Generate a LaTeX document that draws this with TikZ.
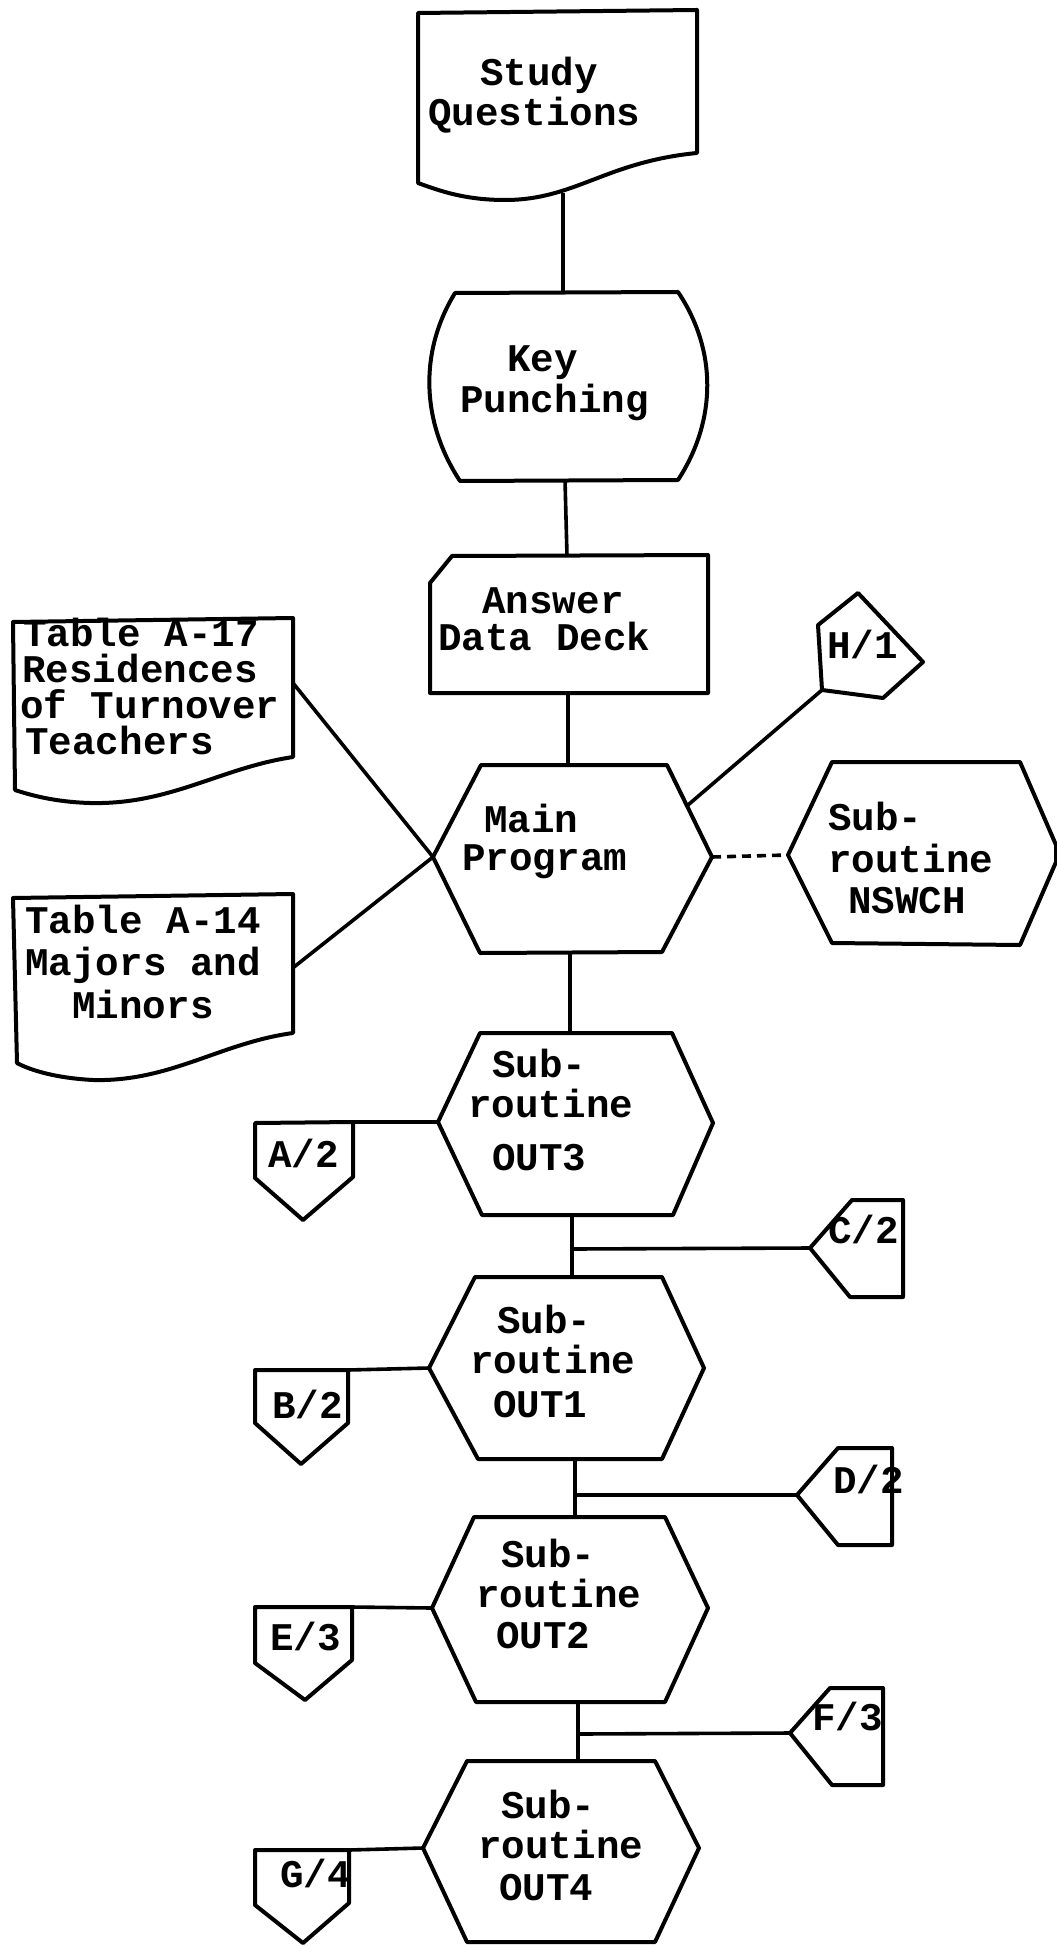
\documentclass[tikz,border=0pt]{standalone}
\usepackage{fontspec}
\newfontfamily\twfont{Liberation Mono}
\begin{document}
\begin{tikzpicture}[x=0.5pt,y=-0.5pt,
  shp/.style={draw=black, line width=2pt, line join=round, fill=white},
  conn/.style={draw=black, line width=1.8pt},
  dconn/.style={draw=black, line width=1.8pt, dash pattern=on 4.5pt off 3pt},
  txt/.style={anchor=base west, inner sep=0pt, text height=0.62em, text depth=0.12em,
    font=\twfont\bfseries\fontsize{19.6}{20}\selectfont}]
\fill[white] (0,0) rectangle (1056,1946);
\useasboundingbox (0,0) rectangle (1056,1946);

% ---------- connectors (drawn first, shapes cover their ends) ----------
\coordinate (sq-s) at (563,193);
\coordinate (kp-n) at (563,293);
\coordinate (kp-s) at (565,480);
\coordinate (ad-n) at (567,556);
\coordinate (ad-s) at (568,693);
\coordinate (mp-n) at (568,765);
\coordinate (mp-w) at (433,857);
\coordinate (mp-e) at (712,857);
\coordinate (mp-s) at (570,952);
\coordinate (mp-ne) at (688,805);
\coordinate (h1-sw) at (822,690);
\coordinate (ns-w) at (788,855);
\coordinate (t17-e) at (293,683);
\coordinate (t14-e) at (294,967);
\coordinate (o3-n) at (570,1033);
\coordinate (o3-w) at (438,1122);
\coordinate (o3-s) at (572,1215);
\coordinate (a2-ne) at (353,1122);
\coordinate (j1) at (572,1249);
\coordinate (c2-w) at (810,1248);
\coordinate (o1-n) at (572,1277);
\coordinate (o1-w) at (429,1368);
\coordinate (o1-s) at (575,1459);
\coordinate (b2-ne) at (348,1370);
\coordinate (j2) at (575,1495);
\coordinate (d2-w) at (797,1495);
\coordinate (o2-n) at (575,1517);
\coordinate (o2-w) at (432,1608);
\coordinate (o2-s) at (578,1702);
\coordinate (e3-ne) at (352,1607);
\coordinate (j3) at (578,1734);
\coordinate (f3-w) at (790,1733);
\coordinate (o4-n) at (578,1761);
\coordinate (o4-w) at (423,1848);
\coordinate (g4-ne) at (349,1850);

\draw[conn] (sq-s) -- (kp-n);
\draw[conn] (kp-s) -- (ad-n);
\draw[conn] (ad-s) -- (mp-n);
\draw[conn] (t17-e) -- (mp-w);
\draw[conn] (t14-e) -- (mp-w);
\draw[conn] (mp-ne) -- (h1-sw);
\draw[dconn] (mp-e) -- (ns-w);
\draw[conn] (mp-s) -- (o3-n);
\draw[conn] (o3-w) -- (a2-ne);
\draw[conn] (o3-s) -- (o1-n);
\draw[conn] (j1) -- (c2-w);
\draw[conn] (o1-w) -- (b2-ne);
\draw[conn] (o1-s) -- (o2-n);
\draw[conn] (j2) -- (d2-w);
\draw[conn] (o2-w) -- (e3-ne);
\draw[conn] (o2-s) -- (o4-n);
\draw[conn] (j3) -- (f3-w);
\draw[conn] (o4-w) -- (g4-ne);

% ---------- shapes ----------
% Study Questions (document)
\draw[shp] (418,13) -- (697,10) -- (697,153)
  .. controls (605,162) and (575,200) .. (505,200)
  .. controls (465,200) and (440,191) .. (418,183) -- cycle;
% Key Punching
\draw[shp] (455,293) -- (678,292) .. controls (717,350) and (717,420) .. (678,480)
  -- (460,481) .. controls (420,420) and (420,350) .. (455,293) -- cycle;
% Answer Data Deck (card)
\draw[shp] (452,556) -- (708,555) -- (708,693) -- (430,693) -- (430,583) -- cycle;
% Main Program
\draw[shp] (433,857) -- (481,765) -- (667,765) -- (712,857) -- (662,952) -- (480,953) -- cycle;
% H/1
\draw[shp] (858,593) -- (923,662) -- (883,698) -- (822,690) -- (818,625) -- cycle;
% NSWCH
\draw[shp] (788,855) -- (832,762) -- (1020,762) -- (1056,845) -- (1056,862) -- (1020,945) -- (832,943) -- cycle;
% Table A-17
\draw[shp] (13,622) -- (293,618) -- (293,757)
  .. controls (220,768) and (170,805) .. (90,803)
  .. controls (55,802) and (30,795) .. (15,790) -- cycle;
% Table A-14
\draw[shp] (13,898) -- (293,894) -- (293,1033)
  .. controls (220,1043) and (170,1082) .. (93,1080)
  .. controls (55,1078) and (30,1070) .. (17,1063) -- cycle;
% OUT3
\draw[shp] (438,1122) -- (480,1033) -- (672,1033) -- (713,1123) -- (673,1215) -- (482,1215) -- cycle;
\draw[shp] (255,1123) -- (353,1122) -- (353,1177) -- (303,1220) -- (255,1178) -- cycle;
\draw[shp] (810,1248) -- (852,1200) -- (903,1200) -- (903,1297) -- (850,1297) -- cycle;
% OUT1
\draw[shp] (429,1368) -- (475,1277) -- (662,1277) -- (704,1368) -- (662,1459) -- (478,1459) -- cycle;
\draw[shp] (255,1370) -- (348,1370) -- (348,1423) -- (301,1464) -- (255,1423) -- cycle;
\draw[shp] (797,1495) -- (838,1448) -- (892,1448) -- (892,1545) -- (838,1545) -- cycle;
% OUT2
\draw[shp] (432,1608) -- (474,1517) -- (665,1517) -- (708,1608) -- (665,1702) -- (476,1702) -- cycle;
\draw[shp] (255,1607) -- (352,1607) -- (352,1660) -- (305,1700) -- (255,1663) -- cycle;
\draw[shp] (790,1733) -- (830,1688) -- (883,1688) -- (883,1785) -- (832,1785) -- cycle;
% OUT4
\draw[shp] (423,1848) -- (467,1761) -- (655,1761) -- (699,1848) -- (655,1942) -- (467,1942) -- cycle;
\draw[shp] (255,1850) -- (349,1850) -- (349,1903) -- (303,1943) -- (255,1905) -- cycle;

% ---------- texts ----------
\node[txt] (sq1) at (480,86) {Study};
\node[txt] (sq2) at (428,126) {Questions};
\node[txt] (kp1) at (507,372) {Key};
\node[txt] (kp2) at (460,413) {Punching};
\node[txt] (ad1) at (482,613) {Answer};
\node[txt] (ad2) at (438,650) {Data Deck};
\node[txt] (t17a) at (23,646) {Table A-17};
\node[txt] (t17b) at (22,682) {Residences};
\node[txt] (t17c) at (20,718) {of Turnover};
\node[txt] (t17d) at (25,754) {Teachers};
\node[txt] (t14a) at (25,933) {Table A-14};
\node[txt] (t14b) at (25,975) {Majors and};
\node[txt] (t14c) at (72,1018) {Minors};
\node[txt] (mp1) at (484,832) {Main};
\node[txt] (mp2) at (462,870) {Program};
\node[txt] (h1) at (827,658) {H/1};
\node[txt] (ns1) at (828,830) {Sub-};
\node[txt] (ns2) at (828,872) {routine};
\node[txt] (ns3) at (848,913) {NSWCH};
\node[txt] (o3a) at (492,1077) {Sub-};
\node[txt] (o3b) at (468,1117) {routine};
\node[txt] (o3c) at (492,1170) {OUT3};
\node[txt] (a2) at (268,1167) {A/2};
\node[txt] (c2) at (828,1243) {C/2};
\node[txt] (o1a) at (497,1333) {Sub-};
\node[txt] (o1b) at (470,1373) {routine};
\node[txt] (o1c) at (493,1417) {OUT1};
\node[txt] (b2) at (272,1418) {B/2};
\node[txt] (d2) at (833,1493) {D/2};
\node[txt] (o2a) at (501,1567) {Sub-};
\node[txt] (o2b) at (476,1607) {routine};
\node[txt] (o2c) at (496,1648) {OUT2};
\node[txt] (e3) at (270,1650) {E/3};
\node[txt] (f3) at (812,1730) {F/3};
\node[txt] (o4a) at (501,1818) {Sub-};
\node[txt] (o4b) at (478,1858) {routine};
\node[txt] (o4c) at (499,1900) {OUT4};
\node[txt] (g4) at (280,1887) {G/4};
\end{tikzpicture}
\end{document}
